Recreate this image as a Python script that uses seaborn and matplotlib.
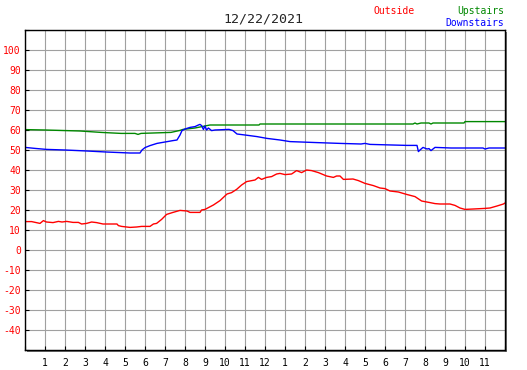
import matplotlib
matplotlib.use("Agg")
import matplotlib.pyplot as plt
from matplotlib.patches import Rectangle
import seaborn as sns
import pandas as pd

sns.set_style("white")
plt.rcParams['font.family'] = ['DejaVu Sans Mono', 'DejaVu Sans']

# hours since midnight and temperatures
out_h = [0, 0.33, 0.75, 0.92, 1.07, 1.4, 1.67, 1.85, 2.08, 2.4,
         2.67, 2.83, 3.08, 3.33, 3.58, 3.9, 4.6, 4.67, 4.83, 5.25,
         5.58, 5.83, 6.25, 6.42, 6.58, 6.83, 7.08, 7.4, 7.75, 8.1,
         8.25, 8.75, 8.83, 9.0, 9.42, 9.75, 10.1, 10.33, 10.58, 10.83,
         11.08, 11.5, 11.67, 11.83, 12.08, 12.33, 12.58, 12.75, 13.0, 13.33,
         13.58, 13.83, 14.08, 14.33, 14.67, 15.08, 15.42, 15.58, 15.75, 15.92,
         16.4, 16.67, 17.0, 17.42, 17.75, 18.0, 18.25, 18.67, 19.08, 19.5,
         19.83, 20.25, 20.5, 20.75, 21.25, 21.5, 21.75, 22.0, 22.42, 23.0,
         23.25, 23.6, 23.92, 24.0]
out_t = [14.2, 14.2, 13.3, 14.7, 14.0, 13.7, 14.3, 14.0, 14.3, 13.8,
         13.8, 13.0, 13.3, 14.0, 13.7, 13.0, 13.0, 12.2, 11.8, 11.3,
         11.5, 11.8, 11.8, 13.0, 13.3, 15.3, 17.8, 18.8, 19.8, 19.5,
         18.8, 18.8, 20.0, 20.3, 22.5, 24.7, 28.0, 28.7, 30.3, 32.5,
         34.2, 35.0, 36.3, 35.3, 36.3, 36.7, 38.0, 38.3, 37.7, 38.0,
         39.7, 38.7, 40.0, 39.7, 38.7, 37.0, 36.3, 37.0, 37.0, 35.3,
         35.5, 34.7, 33.3, 32.2, 31.0, 30.7, 29.5, 29.0, 27.8, 26.7,
         24.5, 23.7, 23.2, 23.0, 23.0, 22.3, 21.0, 20.3, 20.5, 20.8,
         21.0, 22.0, 23.0, 23.5]

up_h = [0, 1.0, 2.75, 3.8, 4.8, 5.5, 5.65, 5.8, 7.3, 7.75,
        7.9, 8.5, 9.0, 9.25, 9.8, 11.7, 11.75, 19.4, 19.5, 19.6,
        19.8, 20.2, 20.3, 20.4, 21.95, 22.0, 24.0]
up_t = [60.2, 60.0, 59.5, 58.8, 58.3, 58.3, 57.8, 58.3, 58.8, 59.8,
        60.3, 61.0, 62.0, 62.5, 62.5, 62.5, 63.0, 63.0, 63.5, 63.0,
        63.5, 63.5, 63.0, 63.5, 63.5, 64.2, 64.2]

dn_h = [0, 0.5, 1.07, 2.0, 3.1, 4.05, 5.25, 5.75, 5.85, 6.0,
        6.25, 6.6, 7.0, 7.4, 7.6, 7.75, 7.85, 8.0, 8.25, 8.5,
        8.67, 8.75, 8.83, 8.92, 9.0, 9.08, 9.17, 9.33, 9.5, 10.2,
        10.4, 10.6, 11.0, 11.6, 12.1, 12.75, 13.25, 14.6, 15.75, 16.8,
        17.0, 17.25, 19.1, 19.6, 19.67, 19.75, 19.9, 20.1, 20.2, 20.3,
        20.5, 21.3, 22.9, 23.0, 23.2, 24.0]
dn_t = [51.3, 50.8, 50.3, 50.0, 49.5, 49.0, 48.5, 48.5, 50.0, 51.2,
        52.2, 53.3, 54.0, 54.7, 55.0, 57.5, 59.7, 60.5, 61.3, 61.7,
        62.5, 62.8, 62.2, 60.3, 62.0, 60.0, 61.0, 59.7, 60.0, 60.3,
        59.7, 58.0, 57.5, 56.7, 55.8, 55.0, 54.2, 53.7, 53.3, 53.0,
        53.3, 52.8, 52.3, 52.3, 49.2, 50.0, 51.3, 50.5, 50.7, 49.7,
        51.3, 51.0, 51.0, 50.5, 51.0, 51.0]

hour_ticks = list(range(1, 24))
hour_labels = [str(h if h <= 12 else h - 12) for h in hour_ticks]
temp_ticks = list(range(-40, 101, 10))

W, H = 527, 370
fig = plt.figure(figsize=(W / 100, H / 100), dpi=100)
ax = fig.add_axes([25 / W, 20 / H, 480 / W, 320 / H])

# drop shadow behind the frame
fig.patches.append(Rectangle((27 / W, 18 / H), 480 / W, 320 / H,
                             transform=fig.transFigure, facecolor="#707070",
                             edgecolor="none", zorder=-1))

for h, t, c in [(out_h, out_t, "#ff0000"), (up_h, up_t, "#008800"), (dn_h, dn_t, "#0000ff")]:
    df = pd.DataFrame({"hour": h, "temp": t})
    sns.lineplot(data=df, x="hour", y="temp", color=c, linewidth=1.0, ax=ax)

ax.set_xlim(0, 24)
ax.set_ylim(-50, 110)
ax.set_xticks(range(0, 25))
ax.set_xticklabels([""] + hour_labels + [""])
ax.set_yticks(range(-50, 111, 10))
ax.set_yticklabels([""] + [str(v) for v in temp_ticks] + [""])
ax.grid(True, color="#a0a0a0", linewidth=0.8)
ax.set_axisbelow(True)
ax.set_xlabel("")
ax.set_ylabel("")
for s in ax.spines.values():
    s.set_color("black")
    s.set_linewidth(1.0)
ax.tick_params(axis="both", direction="in", length=3, width=0.8, color="black",
               labelsize=7, bottom=True, left=True)
ax.tick_params(axis="x", pad=6, labelcolor="black")
ax.tick_params(axis="y", pad=3, labelcolor="#ff0000")

fig.text(263 / W, 1 - 19 / H, "12/22/2021", ha="center", va="center", fontsize=9.5)
fig.text(373 / W, 1 - 11 / H, "Outside", ha="left", va="center", fontsize=7, color="#ff0000")
fig.text(504 / W, 1 - 11 / H, "Upstairs", ha="right", va="center", fontsize=7, color="#008800")
fig.text(504 / W, 1 - 23 / H, "Downstairs", ha="right", va="center", fontsize=7, color="#0000ff")

fig.savefig("out.png", dpi=100, facecolor="white")
